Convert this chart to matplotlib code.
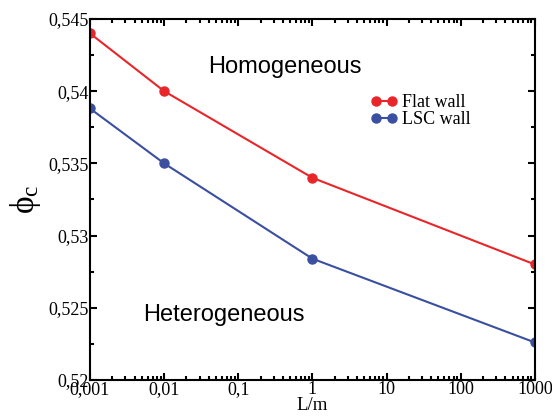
import matplotlib
matplotlib.use("Agg")
import matplotlib.pyplot as plt
from matplotlib.ticker import FixedLocator, MultipleLocator, LogLocator

# Data
lengths = [0.001, 0.01, 1, 1000]
flat_wall = [0.544, 0.540, 0.534, 0.528]
lsc_wall = [0.5388, 0.535, 0.5284, 0.5226]
x_ticks = [0.001, 0.01, 0.1, 1, 10, 100, 1000]
x_labels = ["0,001", "0,01", "0,1", "1", "10", "100", "1000"]
y_ticks = [0.52, 0.525, 0.53, 0.535, 0.54, 0.545]
y_labels = ["0,52", "0,525", "0,53", "0,535", "0,54", "0,545"]

serif = ["Liberation Serif", "DejaVu Serif"]
sans = ["Liberation Sans", "DejaVu Sans"]

plt.rcParams["mathtext.fontset"] = "custom"
plt.rcParams["mathtext.rm"] = "Liberation Serif"
plt.rcParams["mathtext.it"] = "Liberation Serif"

fig = plt.figure(figsize=(5.52, 4.16), dpi=100)
ax = fig.add_axes([0.163, 0.0865, 0.806, 0.868])

ax.plot(lengths, flat_wall, color="#e8262a", lw=1.5, marker="o", ms=6.5, label="Flat wall")
ax.plot(lengths, lsc_wall, color="#3a4fa0", lw=1.5, marker="o", ms=6.5, label="LSC wall")

ax.set_xscale("log")
ax.set_xlim(0.001, 1000)
ax.set_ylim(0.52, 0.545)

ax.xaxis.set_major_locator(FixedLocator(x_ticks))
ax.xaxis.set_minor_locator(LogLocator(base=10, subs=range(2, 10)))
ax.set_xticks(x_ticks)
ax.set_xticklabels(x_labels, fontfamily=serif, fontsize=13)
ax.set_yticks(y_ticks)
ax.set_yticklabels(y_labels, fontfamily=serif, fontsize=13)
ax.yaxis.set_minor_locator(MultipleLocator(0.0025))

ax.tick_params(which="both", direction="in", top=True, right=True, width=1.5)
ax.tick_params(which="major", length=5, pad=1)
ax.tick_params(which="minor", length=3)
for s in ax.spines.values():
    s.set_linewidth(1.5)

ax.set_xlabel("L/m", fontfamily=serif, fontsize=13.5, labelpad=-1)
ax.set_ylabel(r"$\mathrm{ϕ}_\mathrm{c}$", fontsize=24, labelpad=4)

ax.text(0.42, 0.5417, "Homogeneous", fontfamily=sans, fontsize=17, ha="center", va="center")
ax.text(0.064, 0.5245, "Heterogeneous", fontfamily=sans, fontsize=17, ha="center", va="center")

ax.legend(loc="upper left", bbox_to_anchor=(0.615, 0.812), frameon=False, numpoints=2,
          handlelength=1.5, handletextpad=0.2, labelspacing=0.0, borderaxespad=0,
          prop={"family": serif, "size": 13})

fig.savefig("out.png", dpi=100)
